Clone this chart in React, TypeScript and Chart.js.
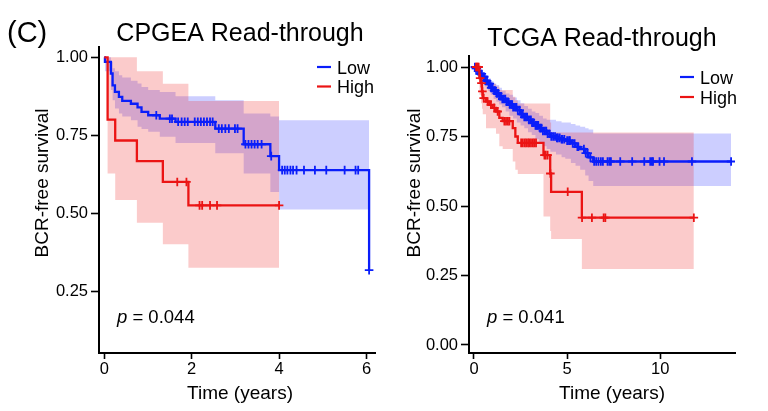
import { useEffect, useRef } from "react";
import { Chart, registerables } from "chart.js";

Chart.register(...registerables);

const FONT = "'Liberation Sans', Arial, Helvetica, sans-serif";

// ---------------- CPGEA Read-through ----------------
const cpgeaLowTime = [0, 0.015, 0.152, 0.19, 0.244, 0.335, 0.411, 0.609, 0.761, 0.852, 1.005, 1.27, 1.63, 2.54, 3.19, 3.8, 4.0, 6.06];
const cpgeaLowSurv = [1.0, 0.985, 0.948, 0.91, 0.889, 0.873, 0.86, 0.851, 0.839, 0.825, 0.814, 0.803, 0.793, 0.771, 0.721, 0.683, 0.638, 0.317];
const cpgeaLowUpper = [1.0, 1.0, 0.985, 0.965, 0.955, 0.942, 0.935, 0.925, 0.916, 0.905, 0.895, 0.889, 0.875, 0.862, 0.82, 0.81, 0.798, 0.798];
const cpgeaLowLower = [1.0, 0.955, 0.895, 0.862, 0.836, 0.82, 0.81, 0.798, 0.777, 0.77, 0.761, 0.745, 0.725, 0.692, 0.627, 0.568, 0.512, 0.512];
const cpgeaLowCensor = [1.19, 1.5, 1.55, 1.69, 1.77, 1.84, 1.91, 2.07, 2.14, 2.21, 2.28, 2.35, 2.42, 2.48, 2.62, 2.69, 2.77, 2.85, 2.99, 3.05, 3.23, 3.3, 3.37, 3.44, 3.51, 3.6, 3.82, 4.07, 4.13, 4.19, 4.26, 4.32, 4.4, 4.57, 4.82, 5.08, 5.5, 5.75, 5.81, 6.06];

const cpgeaHighTime = [0, 0.076, 0.25, 0.746, 1.34, 1.925, 4.0];
const cpgeaHighSurv = [1.0, 0.8, 0.733, 0.667, 0.6, 0.525, 0.525];
const cpgeaHighUpper = [1.0, 1.0, 1.0, 0.955, 0.915, 0.86, 0.86];
const cpgeaHighLower = [1.0, 0.627, 0.542, 0.469, 0.4, 0.325, 0.325];
const cpgeaHighCensor = [1.67, 1.88, 2.18, 2.24, 2.42, 2.58, 4.0];

const cpgeaXTicks = [0, 2, 4, 6];
const cpgeaYTicks = [0.25, 0.5, 0.75, 1.0];

// ---------------- TCGA Read-through ----------------
const tcgaLowTime = [0, 0.1, 0.2, 0.3, 0.45, 0.6, 0.75, 0.9, 1.05, 1.2, 1.35, 1.5, 1.7, 1.9, 2.1, 2.3, 2.5, 2.7, 2.9, 3.1, 3.3, 3.5, 3.7, 3.9, 4.1, 4.4, 4.7, 4.9, 5.2, 5.45, 5.7, 5.97, 6.15, 6.4, 13.8];
const tcgaLowSurv = [1.0, 0.995, 0.985, 0.975, 0.965, 0.95, 0.94, 0.925, 0.915, 0.905, 0.895, 0.885, 0.875, 0.865, 0.855, 0.845, 0.83, 0.82, 0.81, 0.8, 0.79, 0.78, 0.77, 0.76, 0.75, 0.745, 0.74, 0.735, 0.725, 0.713, 0.705, 0.69, 0.675, 0.66, 0.66];
const tcgaLowUpper = [1.0, 1.0, 0.995, 0.99, 0.98, 0.97, 0.96, 0.95, 0.94, 0.935, 0.925, 0.915, 0.905, 0.9, 0.89, 0.88, 0.87, 0.86, 0.85, 0.84, 0.835, 0.825, 0.815, 0.81, 0.81, 0.805, 0.8, 0.8, 0.795, 0.79, 0.785, 0.78, 0.775, 0.761, 0.761];
const tcgaLowLower = [1.0, 0.99, 0.975, 0.96, 0.95, 0.93, 0.915, 0.9, 0.885, 0.875, 0.865, 0.855, 0.84, 0.825, 0.815, 0.8, 0.79, 0.78, 0.765, 0.755, 0.74, 0.73, 0.715, 0.705, 0.695, 0.685, 0.675, 0.67, 0.655, 0.645, 0.63, 0.61, 0.59, 0.572, 0.572];
const tcgaLowCensor = [0.05, 0.1, 0.15, 0.22, 0.3, 0.35, 0.42, 0.5, 0.55, 0.62, 0.7, 0.78, 0.85, 0.92, 1.0, 1.08, 1.15, 1.22, 1.3, 1.38, 1.45, 1.52, 1.6, 1.68, 1.75, 1.83, 1.92, 2.0, 2.05, 2.1, 2.2, 2.28, 2.35, 2.45, 2.55, 2.62, 2.7, 2.78, 2.85, 2.95, 3.05, 3.12, 3.2, 3.3, 3.35, 3.4, 3.45, 3.55, 3.62, 3.7, 3.8, 3.88, 3.95, 4.05, 4.15, 4.25, 4.35, 4.45, 4.5, 4.6, 4.7, 4.75, 4.85, 5.0, 5.1, 5.15, 5.3, 5.4, 5.55, 5.6, 5.9, 6.0, 6.1, 6.25, 6.45, 6.56, 6.68, 6.81, 6.92, 7.17, 7.27, 7.35, 7.85, 8.49, 9.14, 9.46, 9.55, 9.61, 9.96, 10.2, 11.7, 13.8];

const tcgaHighTime = [0, 0.29, 0.38, 0.43, 0.47, 0.645, 0.82, 1.0, 1.18, 1.36, 1.54, 2.08, 2.22, 2.35, 3.73, 4.09, 4.14, 5.79, 11.8];
const tcgaHighSurv = [1.0, 0.96, 0.942, 0.912, 0.888, 0.876, 0.864, 0.853, 0.84, 0.817, 0.805, 0.78, 0.75, 0.727, 0.683, 0.617, 0.551, 0.458, 0.458];
const tcgaHighUpper = [1.0, 1.0, 0.99, 0.97, 0.96, 0.94, 0.94, 0.94, 0.93, 0.917, 0.917, 0.893, 0.88, 0.869, 0.869, 0.8, 0.764, 0.764, 0.764];
const tcgaHighLower = [1.0, 0.9, 0.87, 0.85, 0.83, 0.78, 0.78, 0.78, 0.76, 0.715, 0.705, 0.66, 0.63, 0.615, 0.462, 0.41, 0.381, 0.273, 0.273];
const tcgaHighCensor = [0.11, 0.16, 0.2, 0.25, 0.33, 0.4, 0.45, 0.52, 0.73, 0.91, 1.09, 1.27, 1.63, 1.72, 1.82, 1.9, 2.53, 2.62, 2.72, 2.8, 2.9, 2.97, 3.06, 3.16, 3.24, 3.33, 3.78, 3.85, 3.95, 4.1, 5.03, 5.8, 6.33, 6.96, 7.05, 11.8];

const tcgaXTicks = [0, 5, 10];
const tcgaYTicks = [0, 0.25, 0.5, 0.75, 1.0];

const legendLabels = ["Low", "High"];

const LOW_COLOR = "rgb(10,30,250)";
const HIGH_COLOR = "rgb(235,20,20)";
const LOW_BAND = "rgba(0,10,255,0.2)";
const HIGH_BAND = "rgba(235,20,20,0.22)";

type Pt = { x: number; y: number };

function pts(times: number[], vals: number[]): Pt[] {
  return times.map((t, i) => ({ x: t, y: vals[i] }));
}

function survAt(times: number[], vals: number[], t: number): number {
  let v = vals[0];
  for (let i = 0; i < times.length; i++) {
    if (times[i] <= t + 1e-9) v = vals[i];
    else break;
  }
  return v;
}

function censorPts(censor: number[], times: number[], vals: number[]): Pt[] {
  return censor.map((t) => ({ x: t, y: survAt(times, vals, t) }));
}

interface PanelSpec {
  low: { time: number[]; surv: number[]; upper: number[]; lower: number[]; censor: number[] };
  high: { time: number[]; surv: number[]; upper: number[]; lower: number[]; censor: number[] };
  xTicks: number[];
  yTicks: number[];
  xMin: number;
  xMax: number;
  yMin: number;
  yMax: number;
  area: { left: number; right: number; top: number; bottom: number };
  title: string;
  titleX: number;
  titleY: number;
  panelLabel?: string;
  legendX: number;
  legendY: number[];
  pValue: string;
  pX: number;
  pY: number;
  xTitleX: number;
  yTitleX: number;
  yTitleY: number;
}

const W = 384;
const H = 411;

function annotatePlugin(spec: PanelSpec) {
  return {
    id: "annotate",
    afterDraw(chart: any) {
      const ctx: CanvasRenderingContext2D = chart.ctx;
      ctx.save();
      ctx.fillStyle = "#000";
      ctx.textBaseline = "alphabetic";
      if (spec.panelLabel) {
        ctx.font = `29px ${FONT}`;
        ctx.textAlign = "left";
        ctx.fillText(spec.panelLabel, 7, 42);
      }
      ctx.font = `25px ${FONT}`;
      ctx.textAlign = "center";
      ctx.fillText(spec.title, spec.titleX, spec.titleY);

      // legend
      ctx.font = `18px ${FONT}`;
      ctx.textAlign = "left";
      const colors = [LOW_COLOR, HIGH_COLOR];
      legendLabels.forEach((lab, i) => {
        const y = spec.legendY[i];
        ctx.strokeStyle = colors[i];
        ctx.lineWidth = 2.2;
        ctx.beginPath();
        ctx.moveTo(spec.legendX, y - 6.5);
        ctx.lineTo(spec.legendX + 14, y - 6.5);
        ctx.stroke();
        ctx.fillStyle = "#000";
        ctx.fillText(lab, spec.legendX + 20, y);
      });

      // p value
      ctx.font = `italic 18.5px ${FONT}`;
      ctx.fillText("p", spec.pX, spec.pY);
      const pw = ctx.measureText("p").width;
      ctx.font = `18.5px ${FONT}`;
      ctx.fillText(" = " + spec.pValue, spec.pX + pw, spec.pY);

      // axis titles
      ctx.font = `19px ${FONT}`;
      ctx.textAlign = "center";
      ctx.fillText("Time (years)", spec.xTitleX, 399);
      ctx.translate(spec.yTitleX, spec.yTitleY);
      ctx.rotate(-Math.PI / 2);
      ctx.fillText("BCR-free survival", 0, 0);
      ctx.restore();
    },
  };
}

function buildConfig(spec: PanelSpec): any {
  const lineBase = { pointRadius: 0, stepped: "before", showLine: true };
  const censorBase = {
    showLine: false,
    pointStyle: "cross",
    pointRadius: 4.3,
    pointBorderWidth: 1.8,
  };
  const datasets: any[] = [
    {
      label: "High censor",
      data: censorPts(spec.high.censor, spec.high.time, spec.high.surv),
      ...censorBase,
      pointBorderColor: HIGH_COLOR,
      pointBackgroundColor: HIGH_COLOR,
      order: 0,
    },
    {
      label: "High",
      data: pts(spec.high.time, spec.high.surv),
      ...lineBase,
      borderColor: HIGH_COLOR,
      borderWidth: 2.3,
      fill: false,
      order: 1,
    },
    {
      label: "Low censor",
      data: censorPts(spec.low.censor, spec.low.time, spec.low.surv),
      ...censorBase,
      pointBorderColor: LOW_COLOR,
      pointBackgroundColor: LOW_COLOR,
      order: 2,
    },
    {
      label: "Low",
      data: pts(spec.low.time, spec.low.surv),
      ...lineBase,
      borderColor: LOW_COLOR,
      borderWidth: 2.3,
      fill: false,
      order: 3,
    },
    {
      label: "High upper",
      data: pts(spec.high.time, spec.high.upper),
      ...lineBase,
      borderColor: "rgba(0,0,0,0)",
      borderWidth: 1,
      backgroundColor: HIGH_BAND,
      fill: "+1",
      order: 4,
    },
    {
      label: "High lower",
      data: pts(spec.high.time, spec.high.lower),
      ...lineBase,
      borderColor: "rgba(0,0,0,0)",
      borderWidth: 1,
      fill: false,
      order: 5,
    },
    {
      label: "Low upper",
      data: pts(spec.low.time, spec.low.upper),
      ...lineBase,
      borderColor: "rgba(0,0,0,0)",
      borderWidth: 1,
      backgroundColor: LOW_BAND,
      fill: "+1",
      order: 6,
    },
    {
      label: "Low lower",
      data: pts(spec.low.time, spec.low.lower),
      ...lineBase,
      borderColor: "rgba(0,0,0,0)",
      borderWidth: 1,
      fill: false,
      order: 7,
    },
  ];

  const tickFont = { family: FONT, size: 16.5 };
  return {
    type: "line",
    data: { datasets },
    options: {
      animation: false,
      responsive: false,
      devicePixelRatio: 1,
      events: [],
      layout: {
        padding: { left: 0, top: spec.area.top, right: W - spec.area.right, bottom: 0 },
      },
      plugins: {
        legend: { display: false },
        tooltip: { enabled: false },
        title: { display: false },
        filler: { propagate: false, drawTime: "beforeDatasetsDraw" },
      },
      scales: {
        x: {
          type: "linear",
          min: spec.xMin,
          max: spec.xMax,
          afterBuildTicks: (s: any) => {
            s.ticks = spec.xTicks.map((v) => ({ value: v }));
          },
          afterFit: (s: any) => {
            s.height = H - spec.area.bottom;
          },
          ticks: {
            font: tickFont,
            color: "#000",
            padding: 1,
            maxRotation: 0,
            autoSkip: false,
            callback: (v: any) => String(v),
          },
          grid: {
            drawOnChartArea: false,
            drawTicks: true,
            tickLength: 6,
            tickWidth: 1.6,
            tickColor: "#000",
          },
          border: { display: true, color: "#000", width: 2 },
        },
        y: {
          type: "linear",
          min: spec.yMin,
          max: spec.yMax,
          afterBuildTicks: (s: any) => {
            s.ticks = spec.yTicks.map((v) => ({ value: v }));
          },
          afterFit: (s: any) => {
            s.width = spec.area.left;
          },
          ticks: {
            font: tickFont,
            color: "#000",
            padding: 3,
            autoSkip: false,
            callback: (v: any) => Number(v).toFixed(2),
          },
          grid: {
            drawOnChartArea: false,
            drawTicks: true,
            tickLength: 8,
            tickWidth: 1.6,
            tickColor: "#000",
          },
          border: { display: true, color: "#000", width: 2 },
        },
      },
    },
    plugins: [annotatePlugin(spec)],
  };
}

const cpgeaSpec: PanelSpec = {
  low: { time: cpgeaLowTime, surv: cpgeaLowSurv, upper: cpgeaLowUpper, lower: cpgeaLowLower, censor: cpgeaLowCensor },
  high: { time: cpgeaHighTime, surv: cpgeaHighSurv, upper: cpgeaHighUpper, lower: cpgeaHighLower, censor: cpgeaHighCensor },
  xTicks: cpgeaXTicks,
  yTicks: cpgeaYTicks,
  xMin: -0.121,
  xMax: 6.195,
  yMin: 0.0513,
  yMax: 1.033,
  area: { left: 99, right: 375, top: 47, bottom: 353 },
  title: "CPGEA Read-through",
  titleX: 240,
  titleY: 41,
  panelLabel: "(C)",
  legendX: 317,
  legendY: [73.5, 93],
  pValue: "0.044",
  pX: 117,
  pY: 323,
  xTitleX: 240,
  yTitleX: 48.3,
  yTitleY: 183,
};

const tcgaSpec: PanelSpec = {
  low: { time: tcgaLowTime, surv: tcgaLowSurv, upper: tcgaLowUpper, lower: tcgaLowLower, censor: tcgaLowCensor },
  high: { time: tcgaHighTime, surv: tcgaHighSurv, upper: tcgaHighUpper, lower: tcgaHighLower, censor: tcgaHighCensor },
  xTicks: tcgaXTicks,
  yTicks: tcgaYTicks,
  xMin: -0.268,
  xMax: 14.01,
  yMin: -0.0288,
  yMax: 1.0396,
  area: { left: 85, right: 351, top: 56, bottom: 353 },
  title: "TCGA Read-through",
  titleX: 218,
  titleY: 46,
  legendX: 296,
  legendY: [83.5, 103.5],
  pValue: "0.041",
  pX: 103,
  pY: 323,
  xTitleX: 228,
  yTitleX: 36.3,
  yTitleY: 183,
};

function Panel({ spec }: { spec: PanelSpec }) {
  const ref = useRef<HTMLCanvasElement | null>(null);
  useEffect(() => {
    if (!ref.current) return;
    const chart = new Chart(ref.current, buildConfig(spec));
    return () => chart.destroy();
  }, [spec]);
  return <canvas ref={ref} width={W} height={H} style={{ display: "block", width: W, height: H }} />;
}

export default function App() {
  return (
    <div
      style={{
        position: "absolute",
        left: 0,
        top: 0,
        width: 768,
        height: 411,
        background: "#fff",
        display: "flex",
      }}
    >
      <Panel spec={cpgeaSpec} />
      <Panel spec={tcgaSpec} />
    </div>
  );
}
